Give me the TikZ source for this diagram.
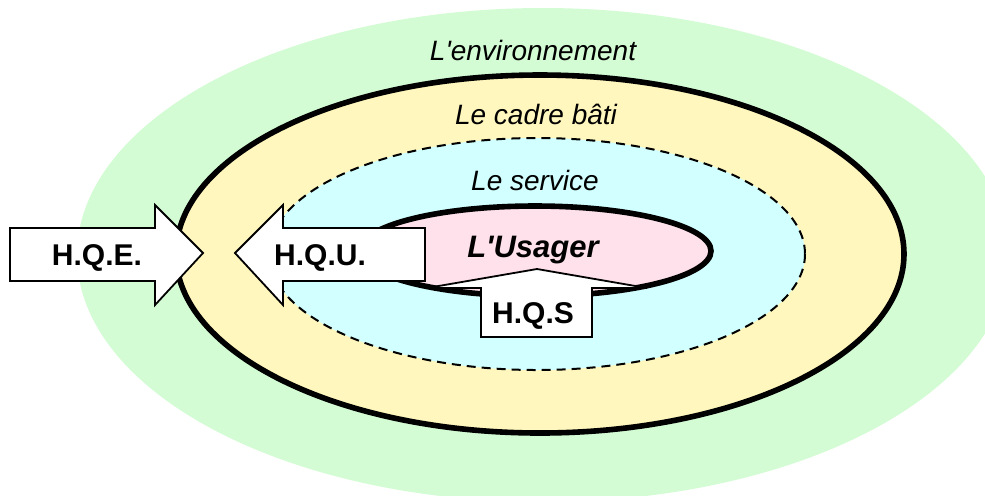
\documentclass[tikz,border=0pt]{standalone}
\usepackage{fontspec}
\setmainfont{Liberation Sans}
\definecolor{envgreen}{RGB}{212,252,212}
\definecolor{batiyellow}{RGB}{255,247,190}
\definecolor{servcyan}{RGB}{210,255,255}
\definecolor{userpink}{RGB}{255,225,236}
\tikzset{
  lbl/.style={font=\fontsize{14}{16}\selectfont\itshape, anchor=base},
  tag/.style={font=\fontsize{15}{18}\selectfont\bfseries, anchor=base},
  flow/.style={draw, fill=white, line width=0.9pt, line join=miter}
}
\begin{document}
\begin{tikzpicture}[x=0.5pt,y=-0.5pt]
	\useasboundingbox (0,0) rectangle (985,495);
	\clip (0,0) rectangle (985,495);
	% rings
	\fill[envgreen] (543,255) ellipse [x radius=466, y radius=247];
	\filldraw[fill=batiyellow, line width=2.8pt] (540,254) ellipse [x radius=364, y radius=179];
	\filldraw[fill=servcyan, line width=1pt, dash pattern=on 4.5pt off 3pt] (537,254) ellipse [x radius=268, y radius=116];
	\filldraw[fill=userpink, line width=2.8pt] (535,251) ellipse [x radius=176, y radius=45];
	\node[lbl] (env) at (533,60) {L\textquotesingle environnement};
	\node[lbl] (cadre) at (536,124) {Le cadre bâti};
	\node[lbl] (service) at (535,190) {Le service};
	\node[tag, font=\fontsize{15.5}{18}\selectfont\bfseries\itshape] (usager) at (533,257) {L\textquotesingle Usager};
	% arrows
	\draw[flow] (10,228) -- (155,228) -- (155,205) -- (203,253) -- (155,305) -- (155,281) -- (10,281) -- cycle;
	\draw[flow] (235,253) -- (283,205) -- (283,228) -- (425,228) -- (425,281) -- (283,281) -- (283,305) -- cycle;
	\draw[flow] (537,269) -- (647,288) -- (592,288) -- (592,337) -- (481,337) -- (481,288) -- (427,288) -- cycle;
	\node[tag] (hqe) at (97,265) {H.Q.E.};
	\node[tag] (hqu) at (320,265) {H.Q.U.};
	\node[tag] (hqs) at (533,323) {H.Q.S};
\end{tikzpicture}
\end{document}
